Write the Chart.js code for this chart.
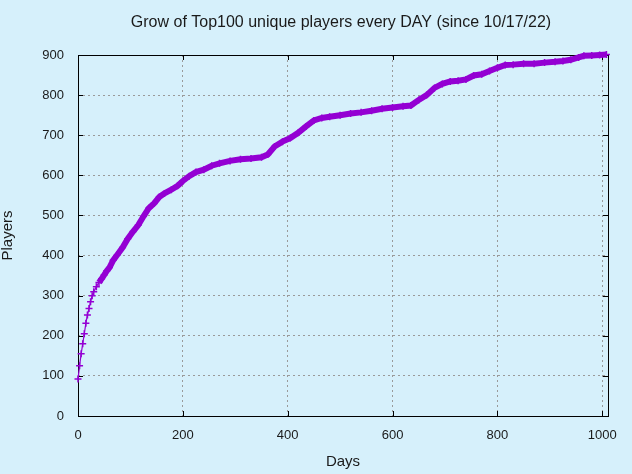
<!DOCTYPE html>
<html>
<head>
<meta charset="utf-8">
<script src="https://cdn.jsdelivr.net/npm/chart.js@4"></script>
<style>
  body { margin: 0; background: #d6f0fb; }
  canvas { display: block; }
</style>
</head>
<body>
<canvas id="myChart" width="632" height="474"></canvas>
<script>
// days since 10/17/22 and the player count
const days = [0, 3, 6, 9, 12, 15, 18, 21, 24, 27, 30, 35, 40, 45, 50, 55, 60, 67, 75, 85,
  95, 105, 115, 125, 135, 145, 155, 165, 178, 190, 200, 212, 225, 240, 255, 270, 290, 310,
  330, 350, 362, 375, 390, 405, 420, 435, 450, 465, 480, 500, 520, 540, 560, 580, 600, 620,
  635, 650, 665, 680, 695, 710, 725, 740, 755, 770, 785, 800, 815, 830, 850, 870, 890, 910,
  925, 940, 955, 965, 980, 995, 1008];
const players = [92, 125, 155, 180, 205, 231, 252, 268, 285, 300, 310, 322, 333, 342, 352, 362, 370, 388, 402, 420,
  442, 460, 476, 498, 518, 530, 546, 555, 564, 574, 586, 598, 608, 614, 624, 630, 636, 640,
  642, 645, 652, 672, 684, 693, 706, 722, 737, 743, 746, 750, 754, 757, 761, 766, 769, 772,
  774, 788, 800, 818, 828, 834, 836, 839, 849, 852, 860, 868, 875, 876, 878, 878, 881, 883,
  885, 888, 894, 898, 899, 900, 901];
const xTicks = [0, 200, 400, 600, 800, 1000];
const yTicks = [0, 100, 200, 300, 400, 500, 600, 700, 800, 900];
const chartTitle = "Grow of Top100 unique players every DAY (since 10/17/22)";

const points = days.map((d, i) => ({ x: d, y: players[i] }));

Chart.defaults.font.family = "'Liberation Sans', Arial, sans-serif";
Chart.defaults.color = "#1a1a1a";

// gnuplot style frame with inward ticks on every side, plus the title
const frame = {
  id: "frame",
  beforeDatasetsDraw(chart) {
    const { ctx, chartArea: a, scales } = chart;
    ctx.save();
    ctx.strokeStyle = "#000";
    ctx.lineWidth = 1;
    ctx.strokeRect(a.left + 0.5, a.top + 0.5, a.right - a.left, a.bottom - a.top);
    ctx.beginPath();
    xTicks.forEach(v => {
      const x = Math.round(scales.x.getPixelForValue(v)) + 0.5;
      ctx.moveTo(x, a.bottom); ctx.lineTo(x, a.bottom - 5);
      ctx.moveTo(x, a.top); ctx.lineTo(x, a.top + 5);
    });
    yTicks.forEach(v => {
      const y = Math.round(scales.y.getPixelForValue(v)) + 0.5;
      ctx.moveTo(a.left, y); ctx.lineTo(a.left + 5, y);
      ctx.moveTo(a.right, y); ctx.lineTo(a.right - 5, y);
    });
    ctx.stroke();

    ctx.fillStyle = "#1a1a1a";
    ctx.font = "16px 'Liberation Sans', Arial, sans-serif";
    ctx.textAlign = "center";
    ctx.textBaseline = "middle";
    ctx.fillText(chartTitle, 341, 23);
    ctx.restore();
  }
};

const ctx = document.getElementById("myChart").getContext("2d");

new Chart(ctx, {
  type: "scatter",
  data: {
    datasets: [
      {
        data: points,
        showLine: true,
        borderColor: "#9400d3",
        backgroundColor: "#9400d3",
        borderWidth: 6,
        segment: {
          borderWidth: c => (c.p0.parsed.x < 40 ? 1.2 : 6),
        },
        pointStyle: "cross",
        pointRadius: 3.5,
        pointBorderWidth: 1.5,
        pointBorderColor: "#9400d3",
        clip: false,
      },
    ],
  },
  plugins: [frame],
  options: {
    responsive: false,
    animation: false,
    layout: { padding: { right: 24, left: 0, top: 55, bottom: 0 } },
    plugins: {
      legend: { display: false },
      tooltip: { enabled: false },
      title: { display: false },
    },
    scales: {
      x: {
        type: "linear",
        min: 0,
        max: 1011,
        afterBuildTicks: s => { s.ticks = xTicks.map(v => ({ value: v })); },
        afterFit: s => { s.height = 58; },
        ticks: { font: { size: 13 }, padding: 12, color: "#1a1a1a", callback: v => String(v) },
        grid: { color: "#9a9a9a", lineWidth: 1, drawTicks: false },
        border: { display: false, dash: [2, 3] },
        title: {
          display: true,
          text: "Days",
          font: { size: 15 },
          color: "#1a1a1a",
          padding: { top: 0, bottom: 3 },
        },
      },
      y: {
        min: 0,
        max: 900,
        afterBuildTicks: s => { s.ticks = yTicks.map(v => ({ value: v })); },
        afterFit: s => { s.width = 78; },
        ticks: { font: { size: 13 }, padding: 14, color: "#1a1a1a", callback: v => String(v) },
        grid: { color: "#9a9a9a", lineWidth: 1, drawTicks: false },
        border: { display: false, dash: [2, 3] },
        title: {
          display: true,
          text: "Players",
          font: { size: 15, lineHeight: 1.1 },
          color: "#1a1a1a",
          padding: { top: 0, bottom: 0 },
        },
      },
    },
  },
});
</script>
</body>
</html>
